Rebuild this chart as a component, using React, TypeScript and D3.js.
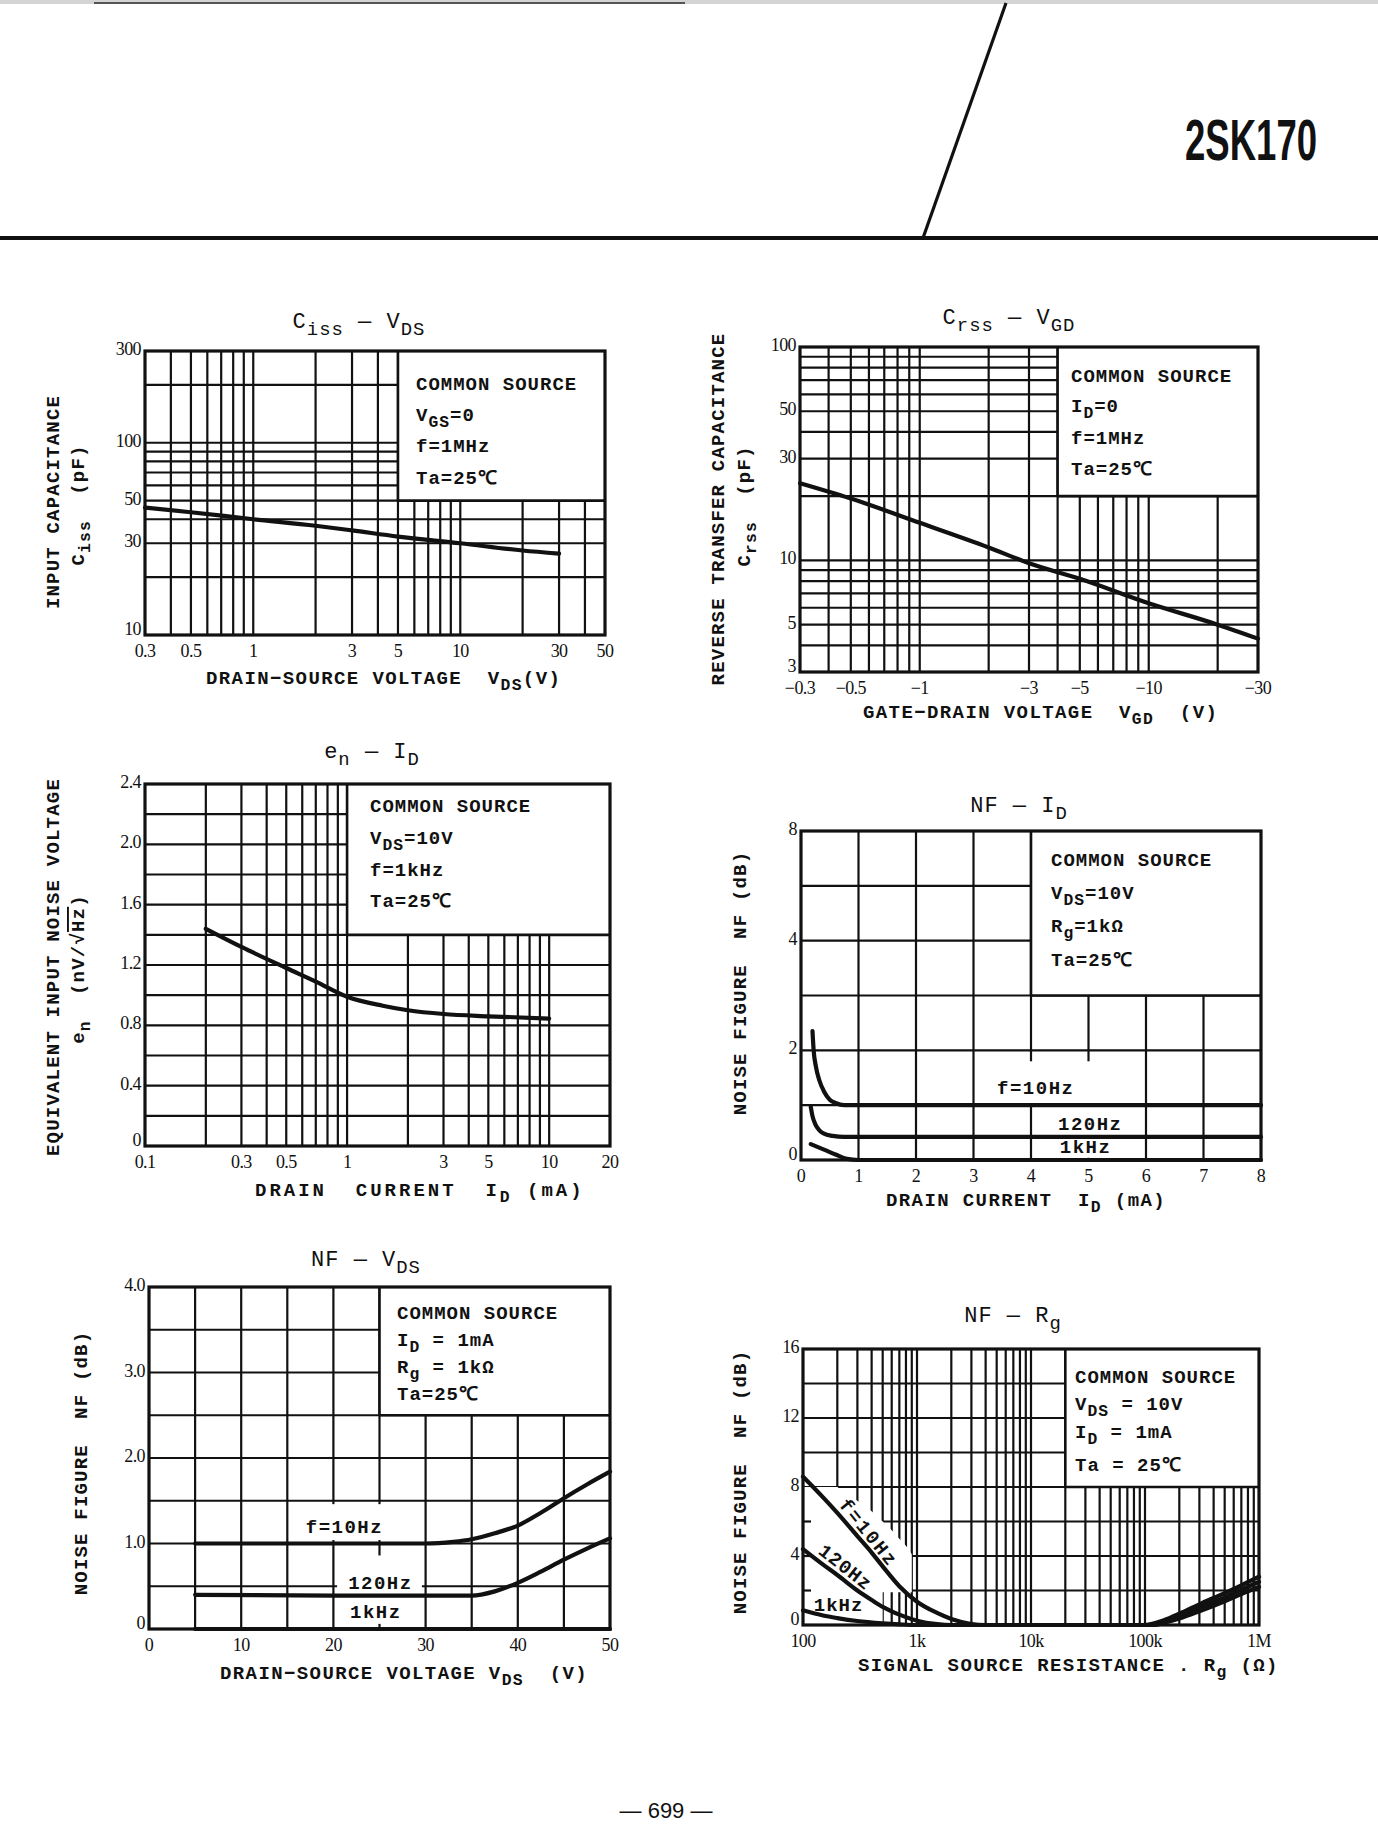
import React from 'react';
import * as d3 from 'd3';

const MONO = "'Liberation Mono','DejaVu Sans Mono',monospace";
const NUM = "'Liberation Serif','DejaVu Serif',serif";

// ---------- Ciss - VDS ----------
const cissXTicks = [0.3, 0.5, 1, 3, 5, 10, 30, 50];
const cissXLabels = ['0.3', '0.5', '1', '3', '5', '10', '30', '50'];
const cissYTicks = [10, 30, 50, 100, 300];
const cissYLabels = ['10', '30', '50', '100', '300'];
const cissGridX = [0.4, 0.5, 0.6, 0.7, 0.8, 0.9, 1, 2, 3, 4, 5, 6, 7, 8, 9, 10, 20, 30, 40];
const cissGridY = [20, 30, 40, 50, 60, 70, 80, 90, 100, 200];
const cissBox = [5, 50, 50, 300];
const cissCurve = [[0.3, 46], [0.5, 43.5], [1, 40], [2, 37], [3, 35], [5, 32.5], [10, 30], [20, 27.5], [30, 26.5]];
const cissLegend = ['COMMON SOURCE', 'V_{GS}=0', 'f=1MHz', 'Ta=25℃'];

// ---------- Crss - VGD ----------
const crssXTicks = [0.3, 0.5, 1, 3, 5, 10, 30];
const crssXLabels = ['−0.3', '−0.5', '−1', '−3', '−5', '−10', '−30'];
const crssYTicks = [3, 5, 10, 30, 50, 100];
const crssYLabels = ['3', '5', '10', '30', '50', '100'];
const crssGridX = [0.4, 0.5, 0.6, 0.7, 0.8, 0.9, 1, 2, 3, 4, 5, 6, 7, 8, 9, 10, 20];
const crssGridY = [4, 5, 6, 7, 8, 9, 10, 20, 30, 40, 50, 60, 70, 80, 90];
const crssBox = [4, 30, 20, 100];
const crssCurve = [[0.3, 23], [0.5, 19.5], [1, 15], [2, 11.5], [3, 9.7], [5, 8.2], [10, 6.3], [20, 5.0], [30, 4.3]];
const crssLegend = ['COMMON SOURCE', 'I_{D}=0', 'f=1MHz', 'Ta=25℃'];

// ---------- en - ID ----------
const enXTicks = [0.1, 0.3, 0.5, 1, 3, 5, 10, 20];
const enXLabels = ['0.1', '0.3', '0.5', '1', '3', '5', '10', '20'];
const enYTicks = [0, 0.4, 0.8, 1.2, 1.6, 2.0, 2.4];
const enYLabels = ['0', '0.4', '0.8', '1.2', '1.6', '2.0', '2.4'];
const enGridX = [0.2, 0.3, 0.4, 0.5, 0.6, 0.7, 0.8, 0.9, 1, 2, 3, 4, 5, 6, 7, 8, 9, 10];
const enGridY = [0.2, 0.4, 0.6, 0.8, 1.0, 1.2, 1.4, 1.6, 1.8, 2.0, 2.2];
const enBox = [1, 20, 1.4, 2.4];
const enCurve = [[0.2, 1.44], [0.3, 1.32], [0.5, 1.18], [0.7, 1.09], [1, 0.99], [1.5, 0.93], [2, 0.9], [3, 0.875], [5, 0.86], [10, 0.845]];
const enLegend = ['COMMON SOURCE', 'V_{DS}=10V', 'f=1kHz', 'Ta=25℃'];

// ---------- NF - ID ----------
const nfiXTicks = [0, 1, 2, 3, 4, 5, 6, 7, 8];
const nfiXLabels = ['0', '1', '2', '3', '4', '5', '6', '7', '8'];
const nfiYTicks = [0, 2, 4, 8];
const nfiYLabels = ['0', '2', '4', '8'];
const nfiGridX = [1, 2, 3, 4, 5, 6, 7];
const nfiGridY = [1, 2, 3, 4, 6];
const nfiBox = [4, 8, 3, 8];
const nfiMasks = [[3.1, 5.9, 1.04, 1.8], [4.06, 5.9, 0.04, 0.97]];
const nfi10Hz = [[0.2, 2.35], [0.22, 2.0], [0.26, 1.7], [0.32, 1.45], [0.4, 1.25], [0.5, 1.1], [0.6, 1.04], [0.75, 1.0], [8, 1.0]];
const nfi120Hz = [[0.17, 0.97], [0.2, 0.8], [0.25, 0.65], [0.32, 0.54], [0.4, 0.48], [0.55, 0.44], [0.75, 0.42], [8, 0.42]];
const nfi1kHz = [[0.17, 0.29], [0.4, 0.19], [0.6, 0.1], [0.8, 0.02], [1.0, 0], [8, 0]];
const nfiCurveLabels = [{ t: 'f=10Hz', x: 3.41, y: 1.3 }, { t: '120Hz', x: 4.47, y: 0.64 }, { t: '1kHz', x: 4.5, y: 0.22 }];
const nfiLegend = ['COMMON SOURCE', 'V_{DS}=10V', 'R_{g}=1kΩ', 'Ta=25℃'];

// ---------- NF - VDS ----------
const nfvXTicks = [0, 10, 20, 30, 40, 50];
const nfvXLabels = ['0', '10', '20', '30', '40', '50'];
const nfvYTicks = [0, 1, 2, 3, 4];
const nfvYLabels = ['0', '1.0', '2.0', '3.0', '4.0'];
const nfvGridX = [5, 10, 15, 20, 25, 30, 35, 40, 45];
const nfvGridY = [0.5, 1.0, 1.5, 2.0, 2.5, 3.0, 3.5];
const nfvBox = [25, 50, 2.5, 4];
const nfvMasks = [[15.4, 29.6, 1.04, 1.46], [20.4, 29.6, 0.06, 0.86]];
const nfv10Hz = [[5, 1.0], [30, 1.0], [33, 1.02], [35, 1.05], [37.5, 1.12], [40, 1.21], [42.5, 1.36], [45, 1.53], [47.5, 1.69], [50, 1.84]];
const nfv120Hz = [[5, 0.4], [20, 0.39], [35, 0.39], [37.5, 0.44], [40, 0.54], [42.5, 0.67], [45, 0.81], [47.5, 0.94], [50, 1.06]];
const nfv1kHz = [[5, 0], [50, 0]];
const nfvCurveLabels = [{ t: 'f=10Hz', x: 17.0, y: 1.18 }, { t: '120Hz', x: 21.6, y: 0.53 }, { t: '1kHz', x: 21.8, y: 0.19 }];
const nfvLegend = ['COMMON SOURCE', 'I_{D} = 1mA', 'R_{g} = 1kΩ', 'Ta=25℃'];

// ---------- NF - Rg ----------
const nfrXTicks = [100, 1e3, 1e4, 1e5, 1e6];
const nfrXLabels = ['100', '1k', '10k', '100k', '1M'];
const nfrYTicks = [0, 4, 8, 12, 16];
const nfrYLabels = ['0', '4', '8', '12', '16'];
const nfrGridX = [200, 300, 400, 500, 600, 700, 800, 900, 1e3, 2e3, 3e3, 4e3, 5e3, 6e3, 7e3, 8e3, 9e3, 1e4,
  2e4, 3e4, 4e4, 5e4, 6e4, 7e4, 8e4, 9e4, 1e5, 2e5, 3e5, 4e5, 5e5, 6e5, 7e5, 8e5, 9e5];
const nfrGridY = [2, 4, 6, 8, 10, 12, 14];
const nfrBox = [2e4, 1e6, 8, 16];
const nfrMaskPoly = [[100, 8], [200, 8], [300, 7.2], [400, 6.6], [500, 6.0], [600, 5.5], [700, 5.0], [800, 4.6], [900, 4.1],
  [900, 1.9], [500, 1.9], [500, 0], [100, 0]];
const nfrStubs = [2, 4, 6];
const nfr10Hz = [[100, 8.6], [150, 7.4], [200, 6.5], [300, 5.15], [400, 4.2], [500, 3.4], [700, 2.25], [1000, 1.35], [1500, 0.7],
  [2000, 0.35], [3000, 0.06], [4000, 0], [1e5, 0], [1.5e5, 0.3], [2e5, 0.65], [3e5, 1.2], [5e5, 1.85], [7e5, 2.3], [1e6, 2.8]];
const nfr120Hz = [[100, 4.4], [150, 3.5], [200, 2.9], [300, 2.0], [400, 1.45], [500, 1.05], [700, 0.6], [1000, 0.25], [1500, 0.05],
  [2000, 0], [1.1e5, 0], [1.5e5, 0.22], [2e5, 0.5], [3e5, 1.0], [5e5, 1.6], [7e5, 2.05], [1e6, 2.5]];
const nfr1kHz = [[100, 0.85], [150, 0.55], [200, 0.4], [300, 0.23], [500, 0.1], [700, 0.04], [1000, 0], [1.2e5, 0],
  [1.5e5, 0.15], [2e5, 0.38], [3e5, 0.8], [5e5, 1.38], [7e5, 1.8], [1e6, 2.2]];
const nfrCurveLabels = [{ t: 'f=10Hz', x: 370, y: 5.3, r: 51 }, { t: '120Hz', x: 232, y: 3.3, r: 38 }, { t: '1kHz', x: 205, y: 1.13, r: 0 }];
const nfrLegend = ['COMMON SOURCE', 'V_{DS} = 10V', 'I_{D} = 1mA', 'Ta = 25℃'];

// ---------- text helpers ----------
type Seg = { t: string; sub?: boolean; over?: boolean };
function parse(s: string): Seg[] {
  const out: Seg[] = [];
  const re = /(_\{[^}]*\}|~\{[^}]*\})/g;
  let last = 0;
  let m: RegExpExecArray | null;
  while ((m = re.exec(s))) {
    if (m.index > last) out.push({ t: s.slice(last, m.index) });
    const body = m[0].slice(2, -1);
    if (m[0][0] === '_') out.push({ t: body, sub: true });
    else out.push({ t: body, over: true });
    last = m.index + m[0].length;
  }
  if (last < s.length) out.push({ t: s.slice(last) });
  return out;
}

function Rich(props: any) {
  const { s, fs, ls = 0, family = MONO, weight = 'bold', ...rest } = props;
  const segs = parse(s);
  const shift = fs * 0.32;
  let inSub = false;
  const spans = segs.map((g, i) => {
    let dy: number | undefined;
    if (g.sub && !inSub) dy = shift;
    else if (!g.sub && inSub) dy = -shift;
    inSub = !!g.sub;
    return (
      <tspan key={i} dy={dy} fontSize={g.sub ? fs * 0.86 : fs} textDecoration={g.over ? 'overline' : undefined}>
        {g.t}
      </tspan>
    );
  });
  return (
    <text fontFamily={family} fontWeight={weight} fontSize={fs} letterSpacing={ls} fill="#111" style={{ whiteSpace: 'pre' }} {...rest}>
      {spans}
    </text>
  );
}

// ---------- panel ----------
function Panel({ c }: { c: any }) {
  const L = c.L;
  const sx: any = c.xLog ? d3.scaleLog().domain(c.xDomain).range([L.x0, L.x1]) : d3.scaleLinear().domain(c.xDomain).range([L.x0, L.x1]);
  let sy: any;
  if (c.yLog) sy = d3.scaleLog().domain(c.yDomain).range([L.y1, L.y0]);
  else {
    const n = c.yDomain.length - 1;
    sy = d3.scaleLinear().domain(c.yDomain).range(c.yDomain.map((_: number, i: number) => L.y1 - ((L.y1 - L.y0) * i) / n));
  }
  const line = d3.line<number[]>().x((d) => sx(d[0])).y((d) => sy(d[1])).curve(d3.curveMonotoneX);
  const rectOf = (r: number[]) => {
    const xa = sx(r[0]), xb = sx(r[1]), ya = sy(r[2]), yb = sy(r[3]);
    return { x: Math.min(xa, xb), y: Math.min(ya, yb), width: Math.abs(xb - xa), height: Math.abs(yb - ya) };
  };
  const GW = 2.2;
  const box = rectOf(c.box);
  return (
    <g>
      {c.gridX.map((v: number, i: number) => (
        <line key={'gx' + i} x1={sx(v)} x2={sx(v)} y1={L.y0} y2={L.y1} stroke="#111" strokeWidth={GW} />
      ))}
      {c.gridY.map((v: number, i: number) => (
        <line key={'gy' + i} x1={L.x0} x2={L.x1} y1={sy(v)} y2={sy(v)} stroke="#111" strokeWidth={GW} />
      ))}
      <rect {...box} fill="#fff" />
      {(c.masks || []).map((m: number[], i: number) => (
        <rect key={'m' + i} {...rectOf(m)} fill="#fff" />
      ))}
      {c.maskPoly && (
        <path d={(d3.line<number[]>().x((d) => sx(d[0])).y((d) => sy(d[1])) as any)(c.maskPoly) + 'Z'} fill="#fff" />
      )}
      {(c.stubs || []).map((v: number, i: number) => (
        <line key={'st' + i} x1={L.x0} x2={L.x0 + 8} y1={sy(v)} y2={sy(v)} stroke="#111" strokeWidth={GW} />
      ))}
      <line x1={box.x} x2={box.x} y1={L.y0} y2={box.y + box.height} stroke="#111" strokeWidth={2.6} />
      <line x1={box.x} x2={L.x1} y1={box.y + box.height} y2={box.y + box.height} stroke="#111" strokeWidth={2.6} />
      <rect x={L.x0} y={L.y0} width={L.x1 - L.x0} height={L.y1 - L.y0} fill="none" stroke="#111" strokeWidth={3.2} />
      {c.curves.map((cv: number[][], i: number) => (
        <path key={'c' + i} d={line(cv as any) || ''} fill="none" stroke="#111" strokeWidth={4.2} strokeLinecap="round" strokeLinejoin="round" />
      ))}
      {(c.curveLabels || []).map((lb: any, i: number) => {
        const x = sx(lb.x), y = sy(lb.y);
        if (lb.r !== undefined) {
          return (
            <Rich key={'cl' + i} s={lb.t} fs={19} ls={lb.t.length > 5 ? 2.2 : 1} textAnchor="middle" dominantBaseline="central"
              transform={`translate(${x},${y}) rotate(${lb.r})`} />
          );
        }
        return <Rich key={'cl' + i} s={lb.t} fs={19} ls={1.5} x={x} y={y} dominantBaseline="central" />;
      })}
      {c.xTicks.map((v: number, i: number) => (
        <text key={'xt' + i} x={sx(v)} y={L.y1 + 22} textAnchor="middle" fontFamily={NUM} fontSize={18} letterSpacing={-0.6} fill="#111">
          {c.xLabels[i]}
        </text>
      ))}
      {c.yTicks.map((v: number, i: number) => (
        <text key={'yt' + i} x={L.x0 - 4} y={sy(v) - (i === 0 ? 6 : 2)} textAnchor="end" dominantBaseline="central" fontFamily={NUM} fontSize={18} letterSpacing={-0.6} fill="#111">
          {c.yLabels[i]}
        </text>
      ))}
      <Rich s={c.title} fs={22} ls={1} x={c.T[0]} y={c.T[1]} textAnchor="middle" weight="normal" />
      {c.legend.map((s: string, i: number) => (
        <Rich key={'lg' + i} s={s} fs={19} ls={1} x={c.LG[0]} y={c.LG[1][i]} />
      ))}
      <Rich s={c.xTitle} fs={19} ls={c.xTitleLs ?? 1.4} x={c.XT[0]} y={c.XT[1]} />
      {c.yTitle.map((s: string, i: number) => (
        <Rich key={'ytl' + i} s={s} fs={19} ls={1.2} textAnchor="middle" dominantBaseline="central"
          transform={`translate(${c.YT[i][0]},${c.YT[i][1]}) rotate(-90)`} />
      ))}
    </g>
  );
}

export default function App() {
  const charts = [
    {
      L: { x0: 145, x1: 605, y0: 351, y1: 635 }, xLog: true, yLog: true, xDomain: [0.3, 50], yDomain: [10, 300],
      gridX: cissGridX, gridY: cissGridY, box: cissBox, curves: [cissCurve],
      xTicks: cissXTicks, xLabels: cissXLabels, yTicks: cissYTicks, yLabels: cissYLabels,
      title: 'C_{iss} — V_{DS}', T: [359, 328], legend: cissLegend, LG: [416, [390, 421, 452, 484]],
      xTitle: 'DRAIN−SOURCE VOLTAGE  V_{DS}(V)', XT: [206, 684],
      yTitle: ['INPUT CAPACITANCE', 'C_{iss}  (pF)'], YT: [[54, 502], [79, 505]],
    },
    {
      L: { x0: 800, x1: 1258, y0: 347, y1: 672 }, xLog: true, yLog: true, xDomain: [0.3, 30], yDomain: [3, 100],
      gridX: crssGridX, gridY: crssGridY, box: crssBox, curves: [crssCurve],
      xTicks: crssXTicks, xLabels: crssXLabels, yTicks: crssYTicks, yLabels: crssYLabels,
      title: 'C_{rss} — V_{GD}', T: [1009, 324], legend: crssLegend, LG: [1071, [382, 412, 444, 475]],
      xTitle: 'GATE−DRAIN VOLTAGE  V_{GD}  (V)', XT: [863, 718],
      yTitle: ['REVERSE TRANSFER CAPACITANCE', 'C_{rss}  (pF)'], YT: [[719, 509], [745, 506]],
    },
    {
      L: { x0: 145, x1: 610, y0: 784, y1: 1146 }, xLog: true, yLog: false, xDomain: [0.1, 20], yDomain: [0, 2.4],
      gridX: enGridX, gridY: enGridY, box: enBox, curves: [enCurve],
      xTicks: enXTicks, xLabels: enXLabels, yTicks: enYTicks, yLabels: enYLabels,
      title: 'e_{n} — I_{D}', T: [372, 758], legend: enLegend, LG: [370, [812, 844, 876, 907]],
      xTitle: 'DRAIN  CURRENT  I_{D} (mA)', XT: [255, 1196], xTitleLs: 3,
      yTitle: ['EQUIVALENT INPUT NOISE VOLTAGE', 'e_{n}  (nV/√~{Hz})'], YT: [[54, 967], [79, 969]],
    },
    {
      L: { x0: 801, x1: 1261, y0: 831, y1: 1160 }, xLog: false, yLog: false, xDomain: [0, 8], yDomain: [0, 2, 4, 8],
      gridX: nfiGridX, gridY: nfiGridY, box: nfiBox, masks: nfiMasks, curves: [nfi10Hz, nfi120Hz, nfi1kHz],
      curveLabels: nfiCurveLabels,
      xTicks: nfiXTicks, xLabels: nfiXLabels, yTicks: nfiYTicks, yLabels: nfiYLabels,
      title: 'NF — I_{D}', T: [1019, 812], legend: nfiLegend, LG: [1051, [866, 899, 932, 966]],
      xTitle: 'DRAIN CURRENT  I_{D} (mA)', XT: [886, 1206],
      yTitle: ['NOISE FIGURE  NF (dB)'], YT: [[741, 983]],
    },
    {
      L: { x0: 149, x1: 610, y0: 1287, y1: 1629 }, xLog: false, yLog: false, xDomain: [0, 50], yDomain: [0, 4],
      gridX: nfvGridX, gridY: nfvGridY, box: nfvBox, masks: nfvMasks, curves: [nfv10Hz, nfv120Hz, nfv1kHz],
      curveLabels: nfvCurveLabels,
      xTicks: nfvXTicks, xLabels: nfvXLabels, yTicks: nfvYTicks, yLabels: nfvYLabels,
      title: 'NF — V_{DS}', T: [366, 1266], legend: nfvLegend, LG: [397, [1319, 1346, 1373, 1400]],
      xTitle: 'DRAIN−SOURCE VOLTAGE V_{DS}  (V)', XT: [220, 1679],
      yTitle: ['NOISE FIGURE  NF (dB)'], YT: [[82, 1463]],
    },
    {
      L: { x0: 803, x1: 1259, y0: 1349, y1: 1625 }, xLog: true, yLog: false, xDomain: [100, 1e6], yDomain: [0, 16],
      gridX: nfrGridX, gridY: nfrGridY, box: nfrBox, maskPoly: nfrMaskPoly, stubs: nfrStubs,
      curves: [nfr10Hz, nfr120Hz, nfr1kHz], curveLabels: nfrCurveLabels,
      xTicks: nfrXTicks, xLabels: nfrXLabels, yTicks: nfrYTicks, yLabels: nfrYLabels,
      title: 'NF — R_{g}', T: [1013, 1322], legend: nfrLegend, LG: [1075, [1383, 1410, 1438, 1471]],
      xTitle: 'SIGNAL SOURCE RESISTANCE . R_{g} (Ω)', XT: [858, 1671],
      yTitle: ['NOISE FIGURE  NF (dB)'], YT: [[741, 1482]],
    },
  ];
  return (
    <svg width={1378} height={1835} viewBox="0 0 1378 1835" style={{ position: 'absolute', left: 0, top: 0, background: '#fff' }}>
      <rect x={0} y={0} width={1378} height={1835} fill="#fff" />
      {/* header */}
      <rect x={0} y={0} width={1378} height={4} fill="#d4d4d4" />
      <line x1={94} x2={685} y1={3} y2={3} stroke="#555" strokeWidth={2} />
      <line x1={1006} y1={3} x2={923} y2={238} stroke="#111" strokeWidth={3.2} />
      <line x1={0} x2={1378} y1={238} y2={238} stroke="#111" strokeWidth={4} />
      <g transform="translate(1185,160) scale(0.63,1)">
        <text x={0} y={0} fontFamily="'Liberation Sans','Arial',sans-serif" fontWeight="bold" fontSize={58} fill="#111">2SK170</text>
      </g>
      {charts.map((c, i) => (
        <Panel key={i} c={c} />
      ))}
      <text x={666} y={1818} textAnchor="middle" fontFamily="'Liberation Sans',sans-serif" fontSize={22} fill="#111">— 699 —</text>
    </svg>
  );
}
